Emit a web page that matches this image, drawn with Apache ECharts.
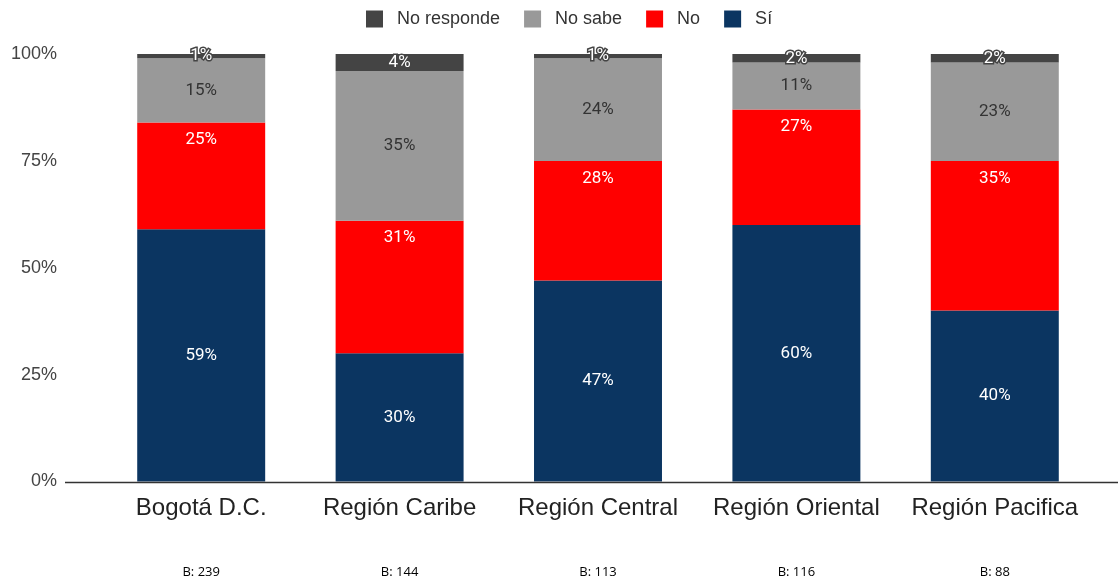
<!DOCTYPE html>
<html>
<head>
<meta charset="utf-8">
<script src="https://cdn.jsdelivr.net/npm/echarts@6/dist/echarts.min.js"></script>
<style>
html,body{margin:0;padding:0;background:#fff;}
#c{width:1118px;height:579px;}
</style>
</head>
<body>
<div id="c"></div>
<script>
var categories = ['Bogotá D.C.', 'Región Caribe', 'Región Central', 'Región Oriental', 'Región Pacifica'];
var baseN = [239, 144, 113, 116, 88];
var si = [59, 30, 47, 60, 40];
var no = [25, 31, 28, 27, 35];
var noSabe = [15, 35, 24, 11, 23];
var noResponde = [1, 4, 1, 2, 2];
var yTicks = [0, 25, 50, 75, 100];

var chart = echarts.init(document.getElementById('c'), null, {renderer: 'canvas'});
var arial = '"Liberation Sans", Arial, sans-serif';
var roboto = 'Roboto, "Liberation Sans", Arial, sans-serif';

function seriesOf(name, data, color, labelStyle) {
  return {
    name: name,
    type: 'bar',
    stack: 'total',
    data: data,
    barWidth: '64.5%',
    itemStyle: {color: color},
    label: Object.assign({
      show: true,
      position: 'inside',
      formatter: '{c}%',
      fontFamily: roboto,
      fontSize: 17
    }, labelStyle)
  };
}

var option = {
  animation: false,
  backgroundColor: '#fff',
  textStyle: {fontFamily: arial},
  legend: {
    top: 10,
    left: 366,
    padding: 0,
    itemWidth: 17,
    itemHeight: 17,
    itemGap: 24,
    icon: 'rect',
    textStyle: {fontSize: 18, color: '#333', fontFamily: arial, padding: [0, 0, 0, 9]},
    data: ['No responde', 'No sabe', 'No', 'Sí']
  },
  grid: {left: 102, right: 24, top: 54, bottom: 97, containLabel: false},
  xAxis: {
    type: 'category',
    data: categories,
    axisLine: {show: false},
    axisTick: {show: false},
    axisLabel: {
      margin: 12,
      formatter: function (v, i) {
        return '{a|' + v + '}\n{b|B: ' + baseN[i] + '}';
      },
      rich: {
        a: {fontSize: 24, lineHeight: 30, color: '#222', fontFamily: arial},
        b: {fontSize: 13, lineHeight: 98, color: '#000', fontFamily: '"Open Sans", "Liberation Sans", sans-serif'}
      }
    }
  },
  yAxis: {
    type: 'value',
    min: 0,
    max: 100,
    interval: 25,
    axisLine: {show: false},
    axisTick: {show: false},
    splitLine: {show: false},
    axisLabel: {
      margin: 45,
      fontSize: 18,
      color: '#444',
      fontFamily: arial,
      formatter: function (v) { return yTicks.indexOf(v) >= 0 ? v + '%' : ''; }
    }
  },
  graphic: [{
    type: 'line',
    shape: {x1: 65, y1: 482.5, x2: 1118, y2: 482.5},
    style: {stroke: '#333', lineWidth: 1.5},
    z: 10
  }],
  series: [
    seriesOf('Sí', si, '#0b3561', {color: '#fff'}),
    seriesOf('No', no, '#ff0000', {color: '#fff', position: 'insideTop', distance: 9}),
    seriesOf('No sabe', noSabe, '#999999', {color: '#333'}),
    seriesOf('No responde', noResponde, '#444444', {color: '#fff', textBorderColor: '#444', textBorderWidth: 3})
  ]
};
chart.setOption(option);
</script>
</body>
</html>
